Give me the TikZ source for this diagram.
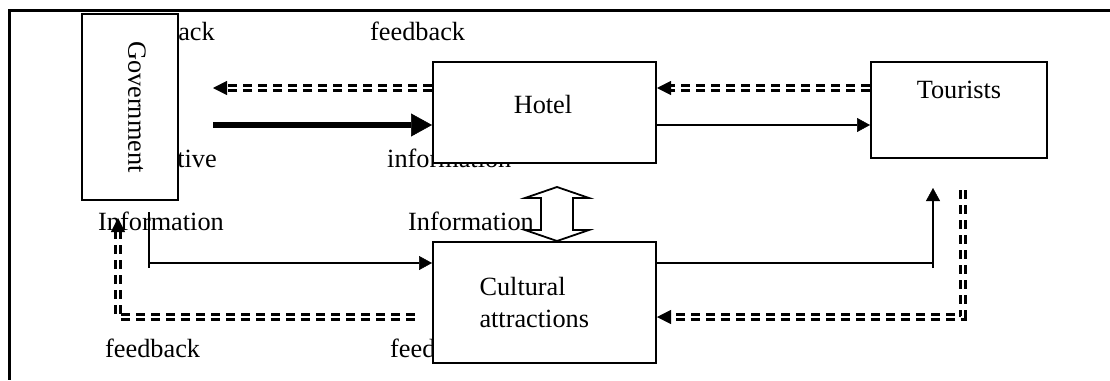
\documentclass[tikz,border=0pt]{standalone}
\usepackage{fontspec}
\setmainfont{Liberation Serif}
\usetikzlibrary{arrows.meta,decorations.markings}

\tikzset{
  frame/.style={line width=3pt},
  box/.style={draw, line width=2pt, fill=white, inner sep=0pt},
  lbl/.style={font=\fontsize{26.3}{31.6}\selectfont, inner sep=0pt},
  plain/.style={line width=1.8pt},
  flow/.style={line width=1.8pt, -{Triangle[length=13pt,width=14pt,line width=0.5pt]}},
  bigflow/.style={line width=6pt, -{Triangle[length=21pt,width=23pt,line width=0.5pt]}},
  fback/.style={line width=2.5pt, double, double distance=2.5pt,
    dash pattern=on 9pt off 6pt, shorten >=9pt,
    postaction={decorate, decoration={markings,
      mark=at position 1 with {\arrow{Triangle[length=14pt,width=14pt,line width=0.5pt]}}}}},
  fbplain/.style={line width=2.5pt, double, double distance=2.5pt, dash pattern=on 9pt off 6pt}
}

\begin{document}
\begin{tikzpicture}[x=1pt,y=-1pt]
    \useasboundingbox (0,0) rectangle (1110,380);
    \draw[frame] (1110,10.5) -- (9,10.5) -- (9,380);
    % labels partly covered by the boxes
    \node[lbl, anchor=base east] (fbgov) at (215,40) {feedback};
    \node[lbl, anchor=base west] (infohotel) at (387,167) {information};
    \node[lbl, anchor=base west] (fbcult) at (390,357) {feedback};
    % boxes
    \node[box, anchor=north west, minimum width=96pt, minimum height=186pt] (gov) at (81,13) {};
    \node[box, anchor=north west, minimum width=223pt, minimum height=101pt] (hotel) at (432,61) {};
    \node[box, anchor=north west, minimum width=176pt, minimum height=96pt] (tour) at (870,61) {};
    \node[box, lbl, anchor=north west, minimum width=223pt, minimum height=121pt,
          text width=130pt, align=left] (cult) at (432,241) {Cultural\\attractions};
    \node[lbl, rotate=-90] (govname) at (137,107) {Government};
    \node[lbl, anchor=base] (hotelname) at (543,113) {Hotel};
    \node[lbl, anchor=base] (tourname) at (959,98) {Tourists};
    % other labels
    \node[lbl, anchor=base west] (fbtop) at (370,40) {feedback};
    \node[lbl, anchor=base east] (govtive) at (217,167) {tive};
    \node[lbl, anchor=base west] (infogov) at (98,230) {Information};
    \node[lbl, anchor=base west] (infolink) at (408,230) {Information};
    \node[lbl, anchor=base west] (fbleft) at (105,357) {feedback};
    % government -- hotel -- tourists
    \coordinate (govfb) at (213,88);
    \coordinate (govout) at (213,125);
    \draw[fback] (hotel.west |- govfb) -- (govfb);
    \draw[bigflow] (govout) -- (hotel.west |- govout);
    \draw[flow] (hotel.east |- govout) -- (tour.west |- govout);
    \draw[fback] (tour.west |- govfb) -- (hotel.east |- govfb);
    % two-way arrow hotel / cultural attractions
    \draw[line width=1.8pt, fill=white, line join=miter]
        (557,187) -- (589,198) -- (573,198) -- (573,230) -- (589,230) -- (557,241)
        -- (525,230) -- (541,230) -- (541,198) -- (525,198) -- cycle;
    % government -- cultural attractions
    \coordinate (ginfotop) at (149,212);
    \coordinate (ginfobot) at (149,268);
    \coordinate (ginfo) at (149,263);
    \draw[plain] (ginfotop) -- (ginfobot);
    \draw[flow] (ginfo) -- (cult.west |- ginfo);
    \coordinate (gfbturn) at (118,317);
    \coordinate (gfbtip) at (118,218);
    \draw[fback, shorten <=17pt] (cult.west |- gfbturn) -- (gfbturn) -- (gfbtip);
    % cultural attractions -- tourists
    \coordinate (tinfo) at (933,263);
    \coordinate (tinfobot) at (933,268);
    \coordinate (tinfotip) at (933,188);
    \draw[plain] (cult.east |- tinfo) -- (tinfo);
    \draw[flow] (tinfobot) -- (tinfotip);
    \coordinate (tfbtop) at (963,190);
    \coordinate (tfbturn) at (963,317);
    \draw[fback] (tfbtop) -- (tfbturn) -- (cult.east |- tfbturn);
\end{tikzpicture}
\end{document}
